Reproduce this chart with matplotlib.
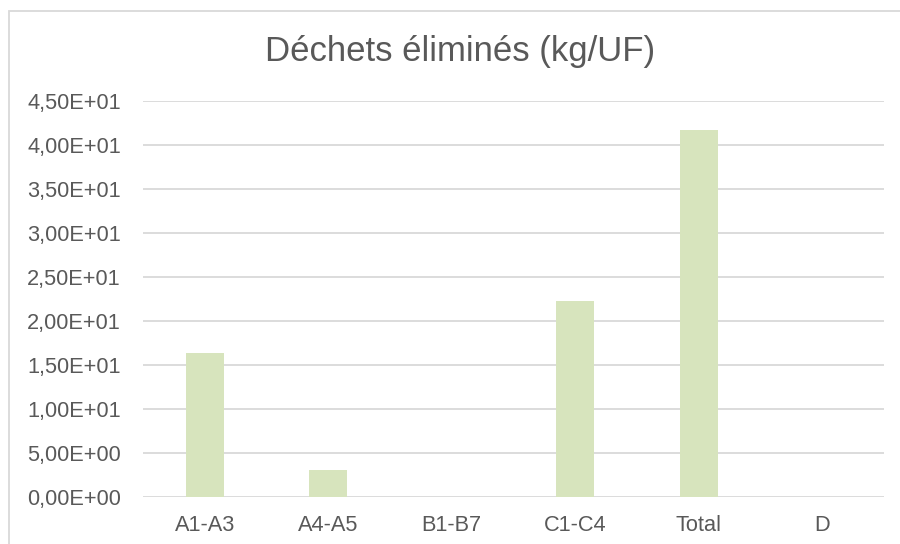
import matplotlib
matplotlib.use('Agg')
import matplotlib.pyplot as plt
from matplotlib.ticker import FuncFormatter, MultipleLocator
from matplotlib.patches import Rectangle

# values
categories = ['A1-A3', 'A4-A5', 'B1-B7', 'C1-C4', 'Total', 'D']
waste = [16.35, 3.0, 0.0, 22.25, 41.65, 0.0]

plt.rcParams['font.family'] = ['Liberation Sans', 'DejaVu Sans']

TEXT = '#595959'
GRID = '#D9D9D9'
BAR = '#D7E4BD'


def sci_fr(v, pos):
    '''Excel style scientific label with a decimal comma'''
    return f'{v:.2E}'.replace('.', ',')


fig = plt.figure(figsize=(9, 5.44), dpi=100)
ax = fig.add_axes([143 / 900, 47.3 / 544, 741 / 900, 395.7 / 544])

ax.bar(range(len(categories)), waste, width=0.31, color=BAR, zorder=2)

ax.set_xlim(-0.5, len(categories) - 0.5)
ax.set_ylim(0, 45)
ax.yaxis.set_major_locator(MultipleLocator(5))
ax.yaxis.set_major_formatter(FuncFormatter(sci_fr))
ax.set_xticks(range(len(categories)))
ax.set_xticklabels(categories)

ax.grid(axis='y', color=GRID, linewidth=1.3, zorder=0)
for s in ax.spines.values():
    s.set_visible(False)
ax.tick_params(axis='both', length=0, labelsize=15.7, colors=TEXT)
ax.tick_params(axis='y', pad=16)
ax.tick_params(axis='x', pad=13.5)

fig.text(460 / 900, 1 - 52 / 544, 'Déchets éliminés (kg/UF)', ha='center',
         va='center', fontsize=25, color=TEXT)

# chart area border (only left and top edges fall inside the image)
fig.patches.append(Rectangle((9 / 900, -0.1), 1.2, 1 - 11 / 544 + 0.1,
                             transform=fig.transFigure, fill=False,
                             edgecolor=GRID, linewidth=1.3))

fig.savefig('out.png', dpi=100)
